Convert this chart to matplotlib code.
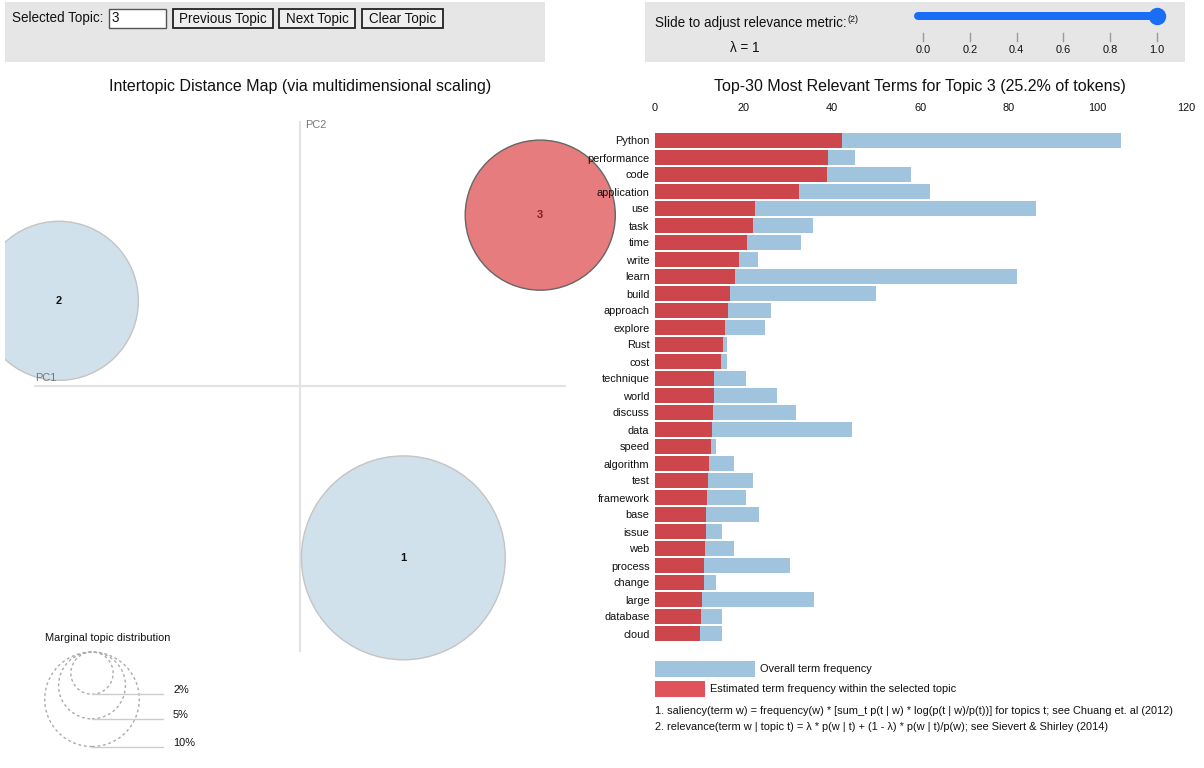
import numpy as np
import matplotlib
matplotlib.use("Agg")
import matplotlib.pyplot as plt
from matplotlib.patches import Rectangle, Circle

plt.rcParams['font.family'] = ['Liberation Sans', 'DejaVu Sans']

# ---------------- data ----------------
terms = ["Python", "performance", "code", "application", "use", "task", "time",
         "write", "learn", "build", "approach", "explore", "Rust", "cost",
         "technique", "world", "discuss", "data", "speed", "algorithm", "test",
         "framework", "base", "issue", "web", "process", "change", "large",
         "database", "cloud"]
overall_freq = [105.3, 45.2, 57.8, 62.1, 86.1, 35.8, 33.1, 23.3, 81.9, 49.9,
                26.2, 24.8, 16.3, 16.3, 20.6, 27.6, 31.9, 44.6, 13.7, 17.8,
                22.1, 20.6, 23.5, 15.1, 17.8, 30.5, 13.7, 36.0, 15.1, 15.1]
topic_freq = [42.3, 39.0, 38.9, 32.5, 22.7, 22.1, 20.7, 19.0, 18.1, 17.0,
              16.4, 15.8, 15.4, 14.9, 13.3, 13.3, 13.2, 12.8, 12.7, 12.2,
              12.0, 11.8, 11.6, 11.6, 11.4, 11.1, 11.0, 10.6, 10.4, 10.2]
xticks_bar = [0, 20, 40, 60, 80, 100, 120]

topic_ids = [1, 2, 3]
pc1 = [0.117, -0.273, 0.272]
pc2 = [-0.194, 0.097, 0.194]
topic_pct = [46.5, 28.3, 25.2]
selected_topic = 3
legend_pct = [2, 5, 10]
slider_ticks = [0.0, 0.2, 0.4, 0.6, 0.8, 1.0]
lambda_value = 1.0

# ---------------- figure ----------------
W, H = 1204, 768
fig = plt.figure(figsize=(W / 100, H / 100), dpi=100)
PT = 0.72  # px -> pt


def px_rect(l, t, r, b):
    return [l / W, 1 - b / H, (r - l) / W, (b - t) / H]


bg = fig.add_axes([0, 0, 1, 1])
bg.set_xlim(0, W)
bg.set_ylim(H, 0)
bg.axis('off')

# top-left control panel
bg.add_patch(Rectangle((5, 2), 540, 60, fc='#e6e6e6', ec='none'))
bg.text(12, 18, "Selected Topic:", fontsize=13.5 * PT, va='center', ha='left', color='#111')
bg.add_patch(Rectangle((109, 8.5), 57, 19.5, fc='white', ec='#555', lw=1))
bg.text(112, 18, str(selected_topic), fontsize=13.5 * PT, va='center', ha='left', color='#111')
for (l, r, lab) in [(173, 273, "Previous Topic"), (279, 355, "Next Topic"), (362, 443, "Clear Topic")]:
    bg.add_patch(Rectangle((l, 8.5), r - l, 19.5, fc='#efefef', ec='#222', lw=1.3))
    bg.text((l + r) / 2, 18.5, lab, fontsize=13.5 * PT, va='center', ha='center', color='#111')

# top-right slider panel
bg.add_patch(Rectangle((645, 2), 540, 60, fc='#e6e6e6', ec='none'))
t_slide = bg.text(655, 23, "Slide to adjust relevance metric:", fontsize=13.5 * PT, va='center',
                  ha='left', color='#111')
bg.annotate("(2)", xy=(1, 0.75), xycoords=t_slide, xytext=(0.5, 0), textcoords='offset points',
            fontsize=9 * PT, va='center', ha='left', color='#111')
bg.text(745, 48, "λ = %g" % lambda_value, fontsize=13.5 * PT, va='center', ha='center', color='#111')
s0, s1 = 923, 1157
bg.plot([918, s0 + (s1 - s0) * lambda_value], [16, 16], color='#1a6ef5', lw=8 * PT,
        solid_capstyle='round')
bg.scatter([s0 + (s1 - s0) * lambda_value], [16], s=(16 * PT) ** 2, color='#1a6ef5', zorder=5)
for v in slider_ticks:
    xx = s0 + (s1 - s0) * v
    bg.plot([xx, xx], [33, 41], color='#999', lw=1)
    bg.text(xx, 50, "%.1f" % v, fontsize=11 * PT, ha='center', va='center', color='#111')

# titles
bg.text(300, 87, "Intertopic Distance Map (via multidimensional scaling)",
        fontsize=16 * PT, ha='center', va='center', color='#111')
sel_idx = topic_ids.index(selected_topic)
bg.text(920, 87, "Top-30 Most Relevant Terms for Topic %d (%.1f%% of tokens)" % (selected_topic, topic_pct[sel_idx]),
        fontsize=16 * PT, ha='center', va='center', color='#111')

# bottom legend of bar chart
bg.add_patch(Rectangle((655, 661), 100, 16, fc='#a0c4de', ec='none'))
bg.text(760, 668.5, "Overall term frequency", fontsize=11 * PT, ha='left', va='center', color='#111')
bg.add_patch(Rectangle((655, 681), 50, 16, fc='#e0535a', ec='none'))
bg.text(710, 688.5, "Estimated term frequency within the selected topic", fontsize=11 * PT,
        ha='left', va='center', color='#111')
bg.text(655, 711, "1. saliency(term w) = frequency(w) * [sum_t p(t | w) * log(p(t | w)/p(t))] for topics t; see Chuang et. al (2012)",
        fontsize=11 * PT, ha='left', va='center', color='#111')
bg.text(655, 727, "2. relevance(term w | topic t) = λ * p(w | t) + (1 - λ) * p(w | t)/p(w); see Sievert & Shirley (2014)",
        fontsize=11 * PT, ha='left', va='center', color='#111')

# ---------------- MDS plot ----------------
K = 883.3          # px per data unit
OX, OY = 300, 386.5  # pixel of origin
R0 = 14.95         # px radius per sqrt(percent)
L, T, R, B = 5, 95, 645, 768
mds = fig.add_axes(px_rect(L, T, R, B))
mds.set_xlim((L - OX) / K, (R - OX) / K)
mds.set_ylim((OY - B) / K, (OY - T) / K)
mds.axis('off')

mds.plot([-0.3, 0.3], [0, 0], color='#e3e3e3', lw=1.5, zorder=1)
mds.plot([0, 0], [-0.3, 0.3], color='#e3e3e3', lw=1.5, zorder=1)
mds.text(0.006, 0.296, "PC2", fontsize=11 * PT, color='#777', ha='left', va='center')
mds.text(-0.3, 0.0095, "PC1", fontsize=11 * PT, color='#777', ha='left', va='center')

for tid, x, y, p in zip(topic_ids, pc1, pc2, topic_pct):
    r = R0 * np.sqrt(p) / K
    if tid == selected_topic:
        fc, ec, tc = '#e67c7d', '#666666', '#8a1c1c'
    else:
        fc, ec, tc = '#d0e1ec', '#c4c4c4', '#111'
    mds.add_patch(Circle((x, y), r, fc=fc, ec=ec, lw=1, zorder=2))
    mds.text(x, y, str(tid), fontsize=11 * PT, fontweight='bold', color=tc,
             ha='center', va='center', zorder=3)

# marginal topic distribution legend
lx = (92 - OX) / K
ltop = (OY - 652) / K
mds.text((45 - OX) / K, (OY - 638) / K, "Marginal topic distribution", fontsize=11 * PT,
         ha='left', va='center', color='#111')
for p in legend_pct:
    r = R0 * np.sqrt(p) / K
    mds.add_patch(Circle((lx, ltop - r), r, fill=False, ec='#aaaaaa', lw=1, ls=(0, (2, 2))))
    yb = ltop - 2 * r
    mds.plot([lx, (163 - OX) / K], [yb, yb], color='#cccccc', lw=1)
    mds.text((173 - OX) / K, yb + 4 / K, "%d%%" % p, fontsize=11 * PT, ha='left', va='center', color='#111')

# ---------------- bar chart ----------------
bar = fig.add_axes(px_rect(655, 132, 1186, 642))
bar.patch.set_visible(False)
ypos = np.arange(len(terms))
bar.barh(ypos, overall_freq, height=0.88, color='#a0c4de', zorder=1)
bar.barh(ypos, topic_freq, height=0.88, color='#cc464c', zorder=2)
bar.set_xlim(0, 120)
bar.set_ylim(len(terms) - 0.5, -0.5)
bar.set_xticks(xticks_bar)
bar.set_xticklabels([str(v) for v in xticks_bar])
bar.set_yticks(ypos)
bar.set_yticklabels(terms)
bar.xaxis.tick_top()
bar.tick_params(axis='x', length=0, labelsize=11 * PT, pad=14, colors='#111')
bar.tick_params(axis='y', length=0, labelsize=11 * PT, pad=4, colors='#111')
for s in bar.spines.values():
    s.set_visible(False)

fig.savefig("out.png", dpi=100)
